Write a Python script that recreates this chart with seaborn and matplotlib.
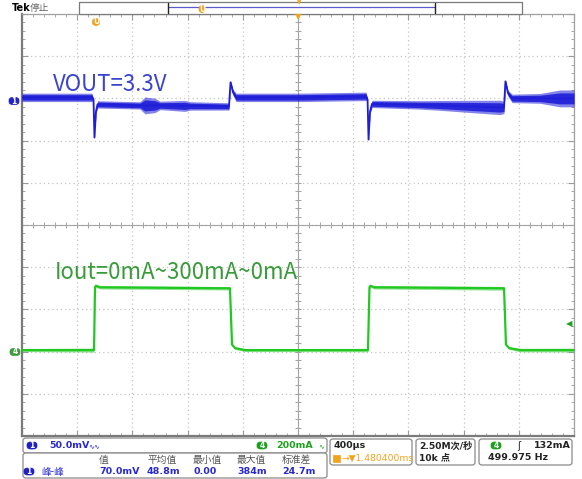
import numpy as np
import pandas as pd
import matplotlib
matplotlib.use("Agg")
import matplotlib.pyplot as plt
from matplotlib.patches import FancyBboxPatch, Rectangle
import seaborn as sns

# ---------------- data ----------------
# Channel 1: VOUT ripple, 50 mV/div ; time in microseconds (400 us/div, 10 div)
time_blue_us = [0, 507, 518, 525, 536, 547, 855, 891, 964, 1000, 1181, 1217, 1500,
                1511, 1529, 1551, 2014, 2493, 2504, 2511, 2522, 2536, 2884, 3029,
                3246, 3464, 3493, 3503, 3522, 3551, 3754, 3899, 4000]
vout_mv = [0, 0, -2.4, -47.6, -16.7, -8.3, -9.5, -9.5, -9.5, -9.5, -10.1, -10.1, -10.7,
           17.9, 6.0, 0, 0, 1.2, -2.4, -50.0, -16.7, -7.7, -8.9, -9.5,
           -10.7, -11.9, -11.9, 19.0, 4.8, -1.2, -1.2, -1.2, -1.2]
vout_band_mv = [5.0, 5.0, 1.4, 1.4, 2.8, 4.3, 4.3, 10.0, 8.5, 5.0, 6.5, 5.0, 4.3,
                2.2, 3.6, 5.0, 5.0, 5.0, 1.4, 1.4, 2.8, 4.3, 5.0, 5.8,
                7.2, 8.5, 7.2, 2.2, 3.6, 5.0, 5.8, 10.0, 10.0]

# Channel 4: load current, 200 mA/div
time_green_us = [0, 522, 529, 536, 565, 1500, 1507, 1522, 1543, 1616, 2507, 2518,
                 2525, 2551, 3486, 3493, 3507, 3529, 3609, 4000]
iout_ma = [0, 0, 297.6, 304.8, 297.6, 292.9, 292.9, 26.2, 9.5, 0, 0, 297.6,
           304.8, 297.6, 292.9, 292.9, 26.2, 9.5, 0, 0]
iout_band_ma = [7, 9.5, 7, 7, 8, 8, 7, 4, 6, 7, 8, 7,
                7, 8, 9, 7, 4, 6, 8, 9]

CH1_SCALE_MV = 50.0
CH4_SCALE_MA = 200.0
CH1_POS_DIV = 3.024
CH4_POS_DIV = -2.964

# ---------------- figure ----------------
sns.set_style("white")
plt.rcParams['font.family'] = ['DejaVu Sans', 'Noto Sans CJK SC']

W, H = 582, 479
fig = plt.figure(figsize=(W / 100, H / 100), dpi=100)
fig.patch.set_facecolor('white')

def fx(x):
    return x / W

def fy(y):
    return 1 - y / H

L, R, T, B = 22, 574, 14, 436
ax = fig.add_axes([fx(L), fy(B), (R - L) / W, (B - T) / H])
ax.set_xlim(0, 4000)
ax.set_ylim(-5, 5)

# grid
ax.set_xticks(np.arange(0, 4001, 400))
ax.set_xticks(np.arange(0, 4001, 80), minor=True)
ax.set_yticks(np.arange(-5, 6, 1))
ax.set_yticks(np.arange(-5, 5.01, 0.2), minor=True)
ax.tick_params(which='both', direction='in', top=True, right=True, bottom=True, left=True,
               labelbottom=False, labelleft=False, color='#9a9a9a')
ax.tick_params(which='major', length=4, width=0.8)
ax.tick_params(which='minor', length=2.5, width=0.6)
ax.grid(True, which='major', color='#c4c4c4', linestyle=(0, (1, 2.4)), linewidth=0.9)
for s in ['top', 'right']:
    ax.spines[s].set_color('#a0a0a0')
    ax.spines[s].set_linewidth(0.9)
for s in ['left', 'bottom']:
    ax.spines[s].set_color('#7a7a7a')
    ax.spines[s].set_linewidth(1.6)

# centre cross with minor ticks
ax.axhline(0, color='#a4a4a4', lw=0.8, zorder=1)
ax.axvline(2000, color='#a4a4a4', lw=0.8, zorder=1)
mx = np.arange(0, 4001, 80)
my = np.arange(-5, 5.01, 0.2)
ax.plot(mx, np.zeros_like(mx), ls='none', marker='|', ms=4, mew=0.7, color='#a4a4a4', zorder=1)
ax.plot(np.full_like(my, 2000), my, ls='none', marker='_', ms=5, mew=0.7, color='#a4a4a4', zorder=1)

# traces
blue = pd.DataFrame({'t': time_blue_us, 'v': vout_mv, 'b': vout_band_mv})
blue['y'] = CH1_POS_DIV + blue['v'] / CH1_SCALE_MV
blue['hw'] = blue['b'] / CH1_SCALE_MV
green = pd.DataFrame({'t': time_green_us, 'i': iout_ma, 'b': iout_band_ma})
green['y'] = CH4_POS_DIV + green['i'] / CH4_SCALE_MA
green['hw'] = green['b'] / CH4_SCALE_MA

BLUE = '#1e1ed8'
GREEN = '#22c822'
ax.fill_between(blue['t'], blue['y'] - blue['hw'], blue['y'] + blue['hw'],
                color=BLUE, alpha=0.55, lw=0, zorder=3)
ax.fill_between(blue['t'], blue['y'] - 0.65 * blue['hw'], blue['y'] + 0.65 * blue['hw'],
                color=BLUE, alpha=0.9, lw=0, zorder=3)
sns.lineplot(data=blue, x='t', y='y', ax=ax, color=BLUE, lw=1.3, estimator=None, sort=False, zorder=4)

ax.fill_between(green['t'], green['y'] - green['hw'], green['y'] + green['hw'],
                color=GREEN, alpha=0.5, lw=0, zorder=3)
sns.lineplot(data=green, x='t', y='y', ax=ax, color=GREEN, lw=1.6, estimator=None, sort=False, zorder=4)
ax.set_xlabel('')
ax.set_ylabel('')

# annotations
fig.text(fx(53), fy(91), 'VOUT=3.3V', color='#3a44cf', fontsize=16,
         family=['Noto Sans CJK SC'], va='baseline', ha='left')
fig.text(fx(55), fy(279), 'Iout=0mA~300mA~0mA', color='#3a9b3a', fontsize=16,
         family=['Noto Sans CJK SC'], va='baseline', ha='left')

# ---------------- screen chrome ----------------
ORANGE = '#f2a31c'
GRAY_T = '#555555'
TBLUE = '#2828d0'
TGREEN = '#20a020'

def box(x0, y0, x1, y1, ec='#8a8a8a', fc='white', r=3, lw=0.9):
    p = FancyBboxPatch((fx(x0), fy(y1)), fx(x1 - x0), (y1 - y0) / H,
                       boxstyle=f"round,pad=0,rounding_size={r / W}",
                       transform=fig.transFigure, ec=ec, fc=fc, lw=lw, zorder=5)
    fig.add_artist(p)

def txt(x, y, s, color='black', size=6.8, weight='bold', ha='left', family=None):
    kw = {}
    if family:
        kw['family'] = family
    fig.text(fx(x), fy(y), s, color=color, fontsize=size, fontweight=weight,
             ha=ha, va='center', zorder=7, **kw)

def badge(x, y, s, color, r=5):
    p = FancyBboxPatch((fx(x - r), fy(y + 3.5)), fx(2 * r), 7 / H,
                       boxstyle=f"round,pad=0,rounding_size={3.5 / W}",
                       transform=fig.transFigure, ec=color, fc=color, lw=0.5, zorder=6)
    fig.add_artist(p)
    fig.text(fx(x), fy(y), s, color='white', fontsize=5.5, fontweight='bold',
             ha='center', va='center', zorder=7)

# top bar
txt(12, 8, 'Tek', size=7, weight='bold')
txt(30, 8, '停止', color='#666666', size=7, weight='normal', family=['Noto Sans CJK SC'])
fig.add_artist(Rectangle((fx(79), fy(14)), fx(522 - 79), 12 / H, transform=fig.transFigure,
                         ec='#7a7a7a', fc='white', lw=0.9, zorder=5))
fig.add_artist(plt.Line2D([fx(168), fx(435)], [fy(7), fy(7)], transform=fig.transFigure,
                          color='#5b5bc8', lw=0.9, zorder=6))
for xb in (168, 435):
    fig.add_artist(plt.Line2D([fx(xb), fx(xb)], [fy(3), fy(13)], transform=fig.transFigure,
                              color='#222222', lw=1.0, zorder=6))
badge(202, 9, 'U', ORANGE, r=3)
fig.text(fx(299), fy(3), '▼', color=ORANGE, fontsize=4, ha='center', va='center', zorder=7)
fig.text(fx(298), fy(17), '▼', color=ORANGE, fontsize=6, ha='center', va='center', zorder=7)
badge(96, 22, 'U', ORANGE, r=3.5)

# channel markers
badge(14, 101, '1', '#2323c8', r=5)
badge(15, 352, '4', '#3c9c3c', r=5)
fig.text(fx(569), fy(324), '◀', color=TGREEN, fontsize=6, ha='center', va='center', zorder=7)

# bottom panel
box(23, 438, 327, 453)
badge(32, 445.5, '1', '#2020c0', r=5)
txt(49, 446, '50.0mV', color=TBLUE)
txt(88, 446, '∿∿', color=TBLUE, size=5, weight='normal')
badge(262, 445.5, '4', '#1aa01a', r=5)
txt(276, 446, '200mA', color=TGREEN)
txt(318, 446, '∿', color=TGREEN, size=5, weight='normal')

box(23, 453, 327, 478)
badge(29, 471.5, '1', '#2020c0', r=5)
txt(41, 472, '峰-峰', color=TBLUE, size=7, weight='normal', family=['Noto Sans CJK SC'])
heads = ['值', '平均值', '最小值', '最大值', '标准差']
vals = ['70.0mV', '48.8m', '0.00', '384m', '24.7m']
cols = [99, 147, 193, 237, 282]
for cx, h_, v_ in zip(cols, heads, vals):
    txt(cx, 460, h_, color=GRAY_T, size=7, weight='normal', family=['Noto Sans CJK SC'])
    txt(cx, 472, v_, color=TBLUE)

box(330, 439, 412, 465)
txt(334, 446, '400µs', color='#222222')
fig.add_artist(Rectangle((fx(333), fy(462)), fx(7), 7 / H, transform=fig.transFigure,
                         ec=ORANGE, fc=ORANGE, lw=0.5, zorder=6))
txt(341, 458, '→▼1.480400ms', color=ORANGE, weight='normal', size=6.6)

box(416, 439, 475, 465)
txt(419, 446, '2.50M次/秒', color='#222222', size=6.6)
txt(419, 458, '10k 点', color='#222222', size=6.6)

box(479, 439, 572, 465)
badge(496, 445.5, '4', '#1aa01a', r=5)
txt(517, 446, 'ʃ', color='#222222', size=7, weight='normal')
txt(571, 446, '132mA', color='#222222', ha='right')
txt(488, 458, '499.975 Hz', color='#222222')

fig.savefig('out.png', dpi=100, facecolor='white')
